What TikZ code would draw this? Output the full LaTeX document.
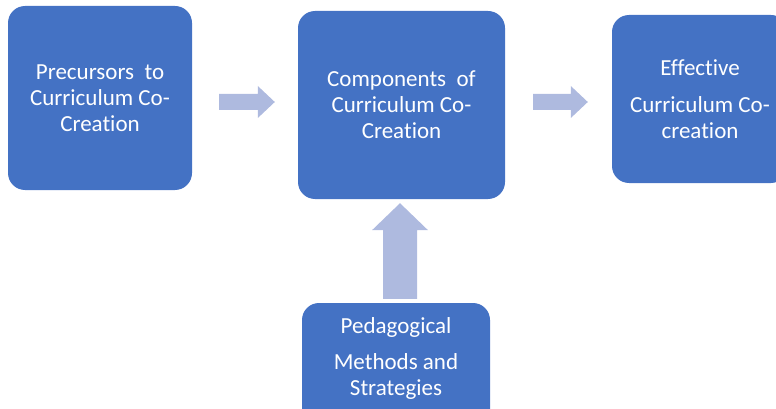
\documentclass[tikz,border=0pt]{standalone}
\usepackage{fontspec}
\setmainfont[Ligatures=CommonOff]{Carlito}
\usetikzlibrary{calc}
\definecolor{boxblue}{HTML}{4472C4}
\definecolor{arrowblue}{HTML}{AEBADF}
\tikzset{
  stagebox/.style={fill=boxblue, draw=none, rounded corners=17pt, text=white,
    align=center, inner sep=0pt,
    font=\fontsize{23}{26}\selectfont},
  boxtext/.style={text=white, align=center, inner sep=0pt,
    font=\fontsize{23}{26}\selectfont},
  blockarrow/.style={fill=arrowblue, draw=none}
}
% horizontal block arrow from #1 to its tip #2
\newcommand\hblockarrow[2]{%
  \fill[blockarrow] let \p1=(#1), \p2=(#2) in
    (\x1,\y1+8pt) -- (\x2-17pt,\y1+8pt) -- (\x2-17pt,\y1+16pt) -- (\x2,\y1)
    -- (\x2-17pt,\y1-16pt) -- (\x2-17pt,\y1-8pt) -- (\x1,\y1-8pt) -- cycle;}
% upward block arrow from tail #1 to tip #2
\newcommand\vblockarrow[2]{%
  \fill[blockarrow] let \p1=(#1), \p2=(#2) in
    (\x1-17pt,\y1) -- (\x1-17pt,\y2-27pt) -- (\x1-28pt,\y2-27pt) -- (\x1,\y2)
    -- (\x1+28pt,\y2-27pt) -- (\x1+17pt,\y2-27pt) -- (\x1+17pt,\y1) -- cycle;}
\begin{document}
\begin{tikzpicture}[x=1pt,y=-1pt]
  \useasboundingbox (0,0) rectangle (776,409);
  \clip (0,0) rectangle (776,409);

  \node[stagebox, minimum width=184pt, minimum height=184pt] (pre) at (100,98)
    {Precursors\ \ to\\Curriculum Co-\\Creation};
  \node[stagebox, minimum width=207pt, minimum height=188pt] (comp) at (401.5,105)
    {Components\ \ of\\Curriculum Co-\\Creation};
  \node[stagebox, minimum width=176pt, minimum height=168pt] (eff) at (700,99)
    {Effective\\[11pt]Curriculum Co-\\creation};
  \node[stagebox, minimum width=188pt, minimum height=130pt] (ped) at (396,368) {};
  \node[boxtext] (pedtext) at (396,358)
    {Pedagogical\\[10pt]Methods and\\Strategies};

  % connectors between the stages
  \coordinate (a1s) at ($(pre.east)+(27,4)$);
  \coordinate (a1e) at ($(comp.west)+(-23,-3)$);
  \hblockarrow{a1s}{a1e}
  \coordinate (a2s) at ($(comp.east)+(28,-3)$);
  \coordinate (a2e) at ($(eff.west)+(-24,3)$);
  \hblockarrow{a2s}{a2e}
  \coordinate (a3s) at ($(ped.north)+(4,-4)$);
  \coordinate (a3e) at ($(comp.south)+(-1.5,4)$);
  \vblockarrow{a3s}{a3e}
\end{tikzpicture}
\end{document}
